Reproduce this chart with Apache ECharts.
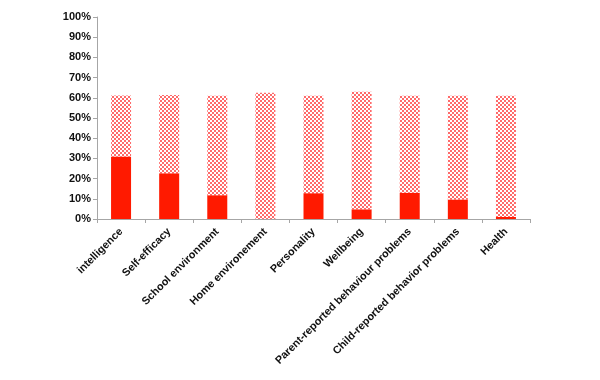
<!DOCTYPE html>
<html><head><meta charset="utf-8">
<script src="https://cdn.jsdelivr.net/npm/echarts@6/dist/echarts.min.js"></script>
<style>html,body{margin:0;padding:0;background:#fff}#c{width:600px;height:380px}</style>
</head><body><div id="c"></div>
<script>
const categories = ['intelligence','Self-efficacy','School environment','Home environement','Personality','Wellbeing','Parent-reported behaviour problems','Child-reported behavior problems','Health'];
const solidValues = [31, 22.7, 11.8, 0, 12.8, 4.8, 13, 9.7, 1];
const totalValues = [61.1, 61.4, 61, 62.5, 61, 63, 61, 61, 61];
const patternValues = totalValues.map((t, i) => +(t - solidValues[i]).toFixed(2));
const yTicks = [0,10,20,30,40,50,60,70,80,90,100];

const cv = document.createElement('canvas');
cv.width = 4; cv.height = 4;
const g = cv.getContext('2d');
g.fillStyle = '#ffffff'; g.fillRect(0,0,4,4);
g.fillStyle = '#ff6a6a';
g.fillRect(0,0,2,2); g.fillRect(2,2,2,2);

const chart = echarts.init(document.getElementById('c'), null, {renderer:'canvas'});
chart.setOption({
  animation:false,
  grid:{left:97,right:70,top:17,bottom:161,containLabel:false},
  xAxis:{type:'category',data:categories,
    axisLine:{lineStyle:{color:'#a6a6a6'}},
    axisTick:{show:true,lineStyle:{color:'#a6a6a6'},length:4},
    axisLabel:{interval:0,rotate:45,color:'#111',fontWeight:'bold',fontSize:10.8,fontFamily:'Liberation Sans',margin:11}},
  yAxis:{type:'value',min:0,max:100,interval:10,
    axisLine:{show:true,lineStyle:{color:'#a6a6a6'}},
    axisTick:{show:true,lineStyle:{color:'#a6a6a6'},length:4},
    splitLine:{show:false},
    axisLabel:{formatter:v=>v+'%',color:'#111',fontWeight:'bold',fontSize:11,fontFamily:'Liberation Sans',margin:6}},
  series:[
    {type:'bar',stack:'a',data:solidValues,barWidth:20,itemStyle:{color:'#ff1a00'}},
    {type:'bar',stack:'a',data:patternValues,barWidth:20,itemStyle:{color:{image:cv,repeat:'repeat'}}}
  ]
});
</script></body></html>
